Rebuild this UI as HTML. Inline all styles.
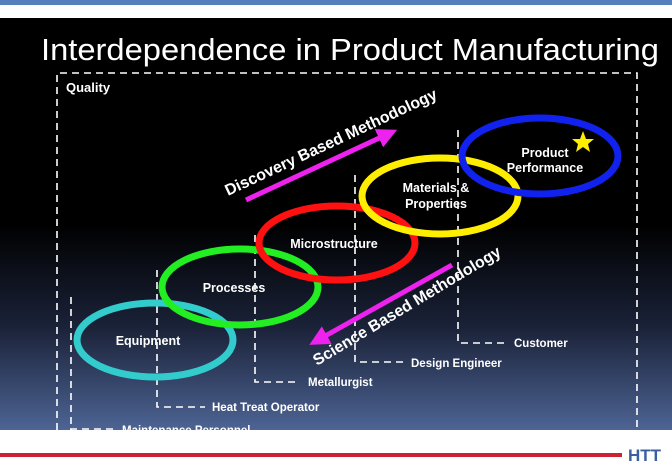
<!DOCTYPE html>
<html><head><style>
html,body{margin:0;padding:0;width:672px;height:466px;overflow:hidden;background:#fff}
svg{display:block}
text{font-family:"Liberation Sans",sans-serif;fill:#fff}
</style></head><body>
<svg width="672" height="466" viewBox="0 0 672 466" xmlns="http://www.w3.org/2000/svg">
<defs>
<linearGradient id="bg" x1="0" y1="0" x2="0" y2="1">
<stop offset="0" stop-color="#000"/>
<stop offset="0.5" stop-color="#000"/>
<stop offset="0.75" stop-color="#1a2238"/>
<stop offset="1" stop-color="#4d6494"/>
</linearGradient>
<marker id="ah" markerWidth="4" markerHeight="4" refX="2" refY="2" orient="auto" markerUnits="strokeWidth">
<path d="M0,0 L4,2 L0,4 z" fill="#ee22ee"/>
</marker>
</defs>
<rect x="0" y="0" width="672" height="5" fill="#5580bb"/>
<rect x="0" y="18" width="672" height="412" fill="url(#bg)"/>
<text x="41" y="60" font-size="31" textLength="618" lengthAdjust="spacingAndGlyphs">Interdependence in Product Manufacturing</text>
<g stroke="#fff" stroke-width="1.6" fill="none" stroke-dasharray="7,5">
<path d="M57,430 V73 H637 V430"/>
<path d="M71,297 V430"/>
<path d="M70,429 H118"/>
<path d="M157,270 V407 H205"/>
<path d="M255,235 V382 H300"/>
<path d="M355,175 V362 H403"/>
<path d="M458,130 V343 H506"/>
</g>
<text x="66" y="92" font-size="13" font-weight="bold">Quality</text>
<g fill="none" stroke-width="7">
<ellipse cx="155" cy="340" rx="78" ry="37" stroke="#33cccc"/>
<ellipse cx="240" cy="287" rx="78" ry="38" stroke="#22ee22"/>
<ellipse cx="337" cy="243" rx="78" ry="37" stroke="#ff1111"/>
<ellipse cx="440" cy="196" rx="78" ry="38" stroke="#ffee00"/>
<ellipse cx="540" cy="156" rx="78" ry="38" stroke="#1122ee"/>
</g>
<polygon points="583,131 586,139 594,139 588,144 590,152 583,147 576,152 578,144 572,139 580,139" fill="#ffee00"/>
<g font-size="12.5" font-weight="bold" text-anchor="middle">
<text x="148" y="345">Equipment</text>
<text x="234" y="292">Processes</text>
<text x="334" y="248">Microstructure</text>
<text x="436" y="192">Materials &amp;</text>
<text x="436" y="208">Properties</text>
<text x="545" y="157">Product</text>
<text x="545" y="172">Performance</text>
</g>
<g font-size="11.5" font-weight="bold">
<text x="212" y="411">Heat Treat Operator</text>
<text x="308" y="386">Metallurgist</text>
<text x="411" y="367">Design Engineer</text>
<text x="514" y="347">Customer</text>
<text x="122" y="434">Maintenance Personnel</text>
</g>
<line x1="246" y1="200" x2="388" y2="134" stroke="#ee22ee" stroke-width="5" marker-end="url(#ah)"/>
<line x1="452" y1="265" x2="318" y2="340" stroke="#ee22ee" stroke-width="5" marker-end="url(#ah)"/>
<text font-size="16" font-weight="bold" transform="translate(228,196) rotate(-25)" textLength="232" lengthAdjust="spacingAndGlyphs">Discovery Based Methodology</text>
<text font-size="16" font-weight="bold" transform="translate(317,366) rotate(-31)" textLength="216" lengthAdjust="spacingAndGlyphs">Science Based Methodology</text>
<rect x="0" y="430" width="672" height="36" fill="#fff"/>
<rect x="0" y="453" width="622" height="4" fill="#cc2233"/>
<text x="628" y="461" font-size="17" font-weight="bold" style="fill:#3a5fa0">HTT</text>
</svg>
</body></html>
